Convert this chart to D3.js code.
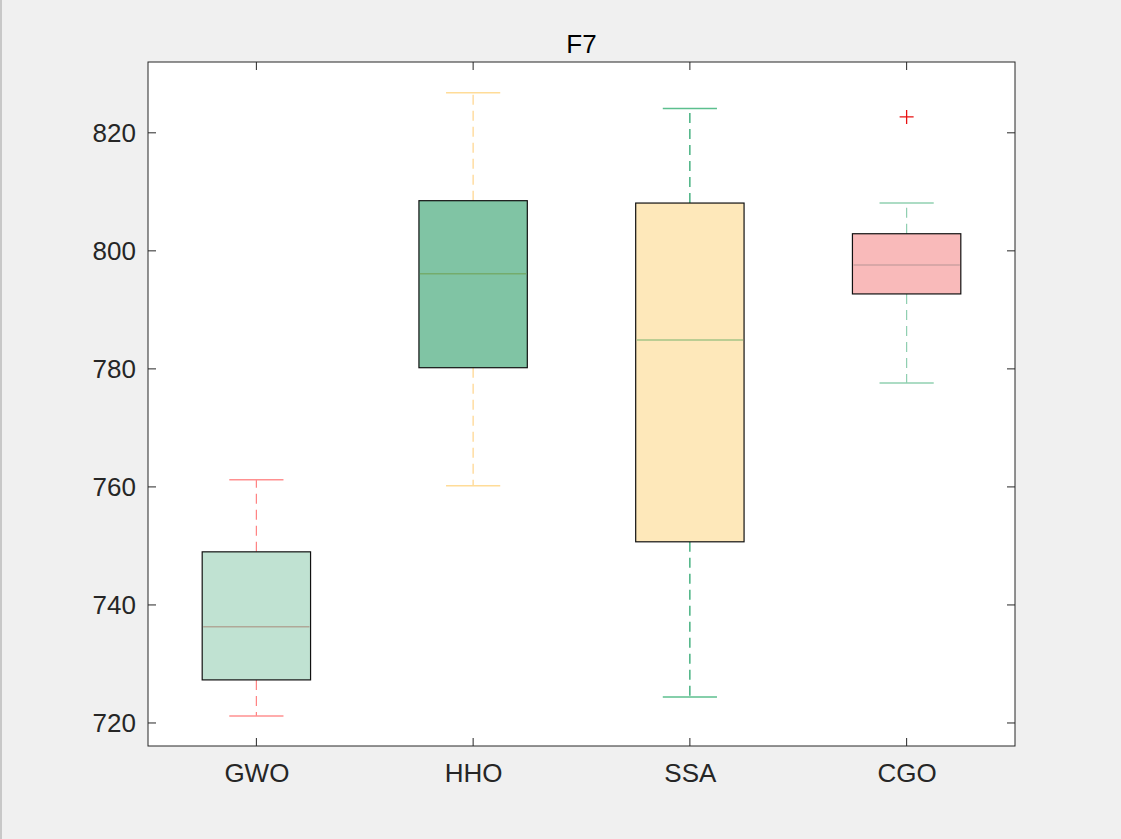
<!DOCTYPE html>
<html><head><meta charset="utf-8">
<script src="https://cdn.jsdelivr.net/npm/d3@7"></script>
<style>
html,body{margin:0;padding:0;background:#f0f0f0;}
svg{display:block;font-family:"Liberation Sans",Arial,Helvetica,sans-serif;}
</style></head>
<body>
<svg id="c" width="1121" height="839"></svg>
<script>
const categories = ["GWO","HHO","SSA","CGO"];
const whiskerLow = [721.2, 760.2, 724.4, 777.6];
const q1 = [727.3, 780.2, 750.7, 792.7];
const median = [736.3, 796.1, 784.9, 797.6];
const q3 = [749.0, 808.5, 808.1, 802.9];
const whiskerHigh = [761.2, 826.8, 824.1, 808.1];
const outliers = [[], [], [], [822.7]];
const yTicks = [720, 740, 760, 780, 800, 820];
const title = "F7";

const boxFill = ["#c0e2d2", "#80c4a4", "#fee8ba", "#f9baba"];
const whiskerColor = ["#ff8282", "#ffd48a", "#1a9e62", "#8ecfb0"];
const capColor = ["#ff9090", "#ffdc98", "#5cbf8e", "#90d0b0"];
const medianColor = ["#b0a898", "#74ac6c", "#a4c486", "#cca0a0"];

const svg = d3.select("#c");
const L = 148, R = 1015, T = 62, B = 746;

svg.append("rect").attr("x",0).attr("y",0).attr("width",2).attr("height",839).attr("fill","#c8c8c8");

const x = d3.scaleLinear().domain([0.5, 4.5]).range([L, R]);
const y = d3.scaleLinear().domain([716.1, 832.0]).range([B, T]);

svg.append("rect").attr("x",L).attr("y",T).attr("width",R-L).attr("height",B-T).attr("fill","#ffffff");

const g = svg.append("g");
const bw = 0.25;
categories.forEach((c,i)=>{
  const cx = x(i+1);
  const hw = x(i+1+bw) - cx;
  const cw = hw/2;
  g.append("line").attr("x1",cx).attr("x2",cx).attr("y1",y(q3[i])).attr("y2",y(whiskerHigh[i]))
    .attr("stroke",whiskerColor[i]).attr("stroke-width",1.2).attr("stroke-dasharray","10,6");
  g.append("line").attr("x1",cx).attr("x2",cx).attr("y1",y(q1[i])).attr("y2",y(whiskerLow[i]))
    .attr("stroke",whiskerColor[i]).attr("stroke-width",1.2).attr("stroke-dasharray","10,6");
  g.append("line").attr("x1",cx-cw).attr("x2",cx+cw).attr("y1",y(whiskerHigh[i])).attr("y2",y(whiskerHigh[i]))
    .attr("stroke",capColor[i]).attr("stroke-width",1.5);
  g.append("line").attr("x1",cx-cw).attr("x2",cx+cw).attr("y1",y(whiskerLow[i])).attr("y2",y(whiskerLow[i]))
    .attr("stroke",capColor[i]).attr("stroke-width",1.5);
  g.append("rect").attr("x",cx-hw).attr("y",y(q3[i])).attr("width",2*hw).attr("height",y(q1[i])-y(q3[i]))
    .attr("fill",boxFill[i]).attr("stroke","#111").attr("stroke-width",1.2);
  g.append("line").attr("x1",cx-hw+1).attr("x2",cx+hw-1).attr("y1",y(median[i])).attr("y2",y(median[i]))
    .attr("stroke",medianColor[i]).attr("stroke-width",1.5);
  outliers[i].forEach(v=>{
    const py = y(v);
    g.append("path").attr("d",`M${cx-7},${py}H${cx+7}M${cx},${py-7}V${py+7}`)
      .attr("stroke","#e81010").attr("stroke-width",1.3).attr("fill","none");
  });
});

svg.append("rect").attr("x",L).attr("y",T).attr("width",R-L).attr("height",B-T)
  .attr("fill","none").attr("stroke","#262626").attr("stroke-width",1);

const tl = 8;
const yAxis = d3.axisLeft(y).tickValues(yTicks).tickSize(0).tickPadding(12).tickFormat(d3.format("d"));
const ya = svg.append("g").attr("transform",`translate(${L},0)`).call(yAxis);
ya.select(".domain").remove();
ya.selectAll("text").attr("font-size",26).attr("fill","#262626").attr("font-family","Liberation Sans, Arial, sans-serif");
yTicks.forEach(v=>{
  svg.append("line").attr("x1",L).attr("x2",L+tl).attr("y1",y(v)).attr("y2",y(v)).attr("stroke","#262626");
  svg.append("line").attr("x1",R).attr("x2",R-tl).attr("y1",y(v)).attr("y2",y(v)).attr("stroke","#262626");
});

const xb = d3.scalePoint().domain(categories).range([x(1), x(4)]);
const xAxis = d3.axisBottom(xb).tickSize(0).tickPadding(18);
const xa = svg.append("g").attr("transform",`translate(0,${B})`).call(xAxis);
xa.select(".domain").remove();
xa.selectAll("text").attr("font-size",26).attr("fill","#262626").attr("font-family","Liberation Sans, Arial, sans-serif");
categories.forEach(c=>{
  svg.append("line").attr("x1",xb(c)).attr("x2",xb(c)).attr("y1",B).attr("y2",B-tl).attr("stroke","#262626");
  svg.append("line").attr("x1",xb(c)).attr("x2",xb(c)).attr("y1",T).attr("y2",T+tl).attr("stroke","#262626");
});

svg.append("text").attr("x",(L+R)/2).attr("y",53).attr("text-anchor","middle")
  .attr("font-size",26).attr("fill","#000").text(title);
</script>
</body></html>
